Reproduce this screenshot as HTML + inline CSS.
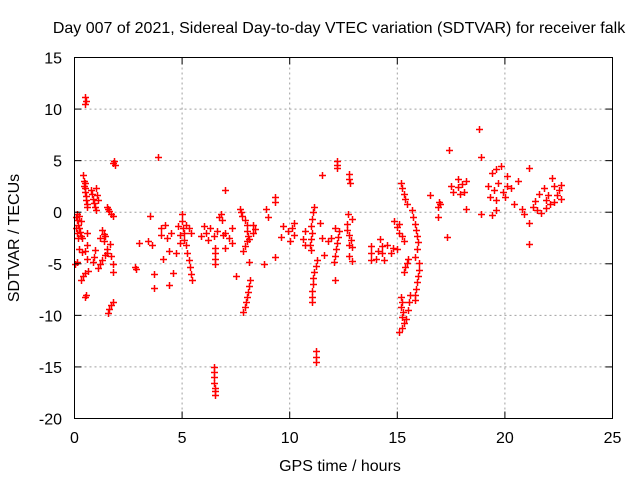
<!DOCTYPE html>
<html><head><meta charset="utf-8"><style>
body{margin:0;background:#fff;}
svg{display:block;font-family:"Liberation Sans",sans-serif;}
</style></head><body>
<svg id="chart" width="640" height="480" viewBox="0 0 640 480">
<rect width="640" height="480" fill="#fff"/>
<text x="339" y="33" font-size="16" text-anchor="middle">Day 007 of 2021, Sidereal Day-to-day VTEC variation (SDTVAR) for receiver falk</text>
<g id="grid"></g>
<g id="marks"></g>
<rect x="74.5" y="57.5" width="538" height="361" fill="none" stroke="#000" stroke-width="1"/>
<g id="axes"></g>
<text x="340" y="471" font-size="16" text-anchor="middle">GPS time / hours</text>
<text x="19" y="238" font-size="16" text-anchor="middle" transform="rotate(-90 19 238)">SDTVAR / TECUs</text>
</svg>
<script>
const xTicks=[0,5,10,15,20,25];
const yTicks=[-20,-15,-10,-5,0,5,10,15];
const hours=[0.05,0.1,0.15,0.2,0.25,0.3,0.35,0.12,0.2,0.28,0.05,0.1,0.15,
0.4,0.42,0.45,0.5,0.52,0.55,0.58,0.6,0.48,0.5,
0.8,0.85,0.9,0.95,1.0,0.75,1.0,1.05,1.1,
0.5,0.5,0.55,1.5,1.6,1.7,1.8,1.55,1.8,1.85,1.9,
0.28,0.4,0.5,0.65,0.5,0.55,1.55,1.6,1.7,1.8,
1.65,1.5,1.4,1.3,1.2,1.1,0.9,0.95,0.85,0.6,0.5,0.6,0.2,0.35,0.1,0.0,
1.2,1.4,1.3,1.5,1.7,1.8,1.8,1.35,1.35,0.6,
2.8,3.0,3.4,3.5,3.6,3.7,3.7,3.9,4.0,4.0,4.1,4.2,4.3,4.4,4.4,4.5,4.6,4.7,4.8,4.9,4.9,2.85,
5.0,5.0,5.05,5.1,5.1,5.2,5.25,5.3,5.35,5.4,5.45,5.2,5.3,5.4,
5.9,6.0,6.2,6.1,6.3,6.55,6.55,6.55,6.55,6.5,6.6,6.7,6.8,6.85,6.9,
6.5,6.5,6.5,6.5,6.55,6.55,6.55,
7.0,7.0,7.2,7.0,7.3,7.3,7.5,
7.7,7.75,7.8,7.9,8.0,8.0,8.05,8.0,7.9,7.85,8.1,8.3,8.4,8.3,
8.15,8.1,8.05,8.0,7.95,7.9,7.85,
8.1,8.9,9.0,9.3,9.3,8.8,9.3,
9.7,9.9,10.1,10.2,9.6,10.0,10.2,
11.15,11.1,11.05,11.0,11.05,11.0,10.95,11.0,10.7,10.6,10.7,
11.25,11.2,11.15,11.1,11.1,11.05,11.05,11.05,
11.2,11.2,11.2,11.5,11.4,11.5,11.6,
12.2,12.2,12.2,12.3,12.25,12.2,12.15,12.1,12.05,11.9,11.8,12.1,12.1,
12.75,12.75,12.8,12.65,12.75,12.85,12.75,12.65,12.7,12.9,12.9,12.75,12.9,
13.8,13.8,13.8,14.2,14.3,14.3,14.4,14.1,14.5,14.7,14.8,15.0,14.0,
14.85,15.0,15.1,15.2,15.3,15.1,
15.15,15.2,15.3,15.35,15.45,
15.7,15.75,15.8,15.85,15.9,15.95,15.9,15.8,16.0,
15.3,15.35,15.45,15.5,
15.15,15.2,15.15,15.25,15.2,15.3,15.2,15.1,15.4,15.5,15.55,15.6,
16.0,15.95,15.9,15.85,15.8,15.8,
16.5,16.95,16.9,16.9,17.0,17.4,17.3,17.5,17.6,17.8,17.8,17.9,18.0,18.1,18.2,18.2,18.8,18.9,18.9,19.2,19.3,19.4,19.5,19.6,19.6,19.7,19.8,19.9,20.0,19.6,19.4,20.1,20.1,20.3,20.4,20.8,20.9,20.6,21.1,21.1,21.1,21.3,21.4,21.5,21.6,21.7,21.9,21.8,22.0,22.1,22.2,22.3,22.4,22.5,22.6,22.3,22.6,21.9];
const sdtvar=[-0.5,-0.8,-1.2,-1.5,-1.9,-2.3,-2.5,-0.2,-0.4,-0.9,-1.5,-2,-2.5,
3.6,3.0,2.5,2.0,1.6,1.2,0.8,0.5,2.8,2.3,
1.8,1.3,0.9,0.5,0.2,2.2,2.3,1.7,1.2,
10.5,11.2,10.8,0.5,0.1,-0.2,-0.4,0.3,4.8,5.0,4.6,
-6.6,-6.2,-5.9,-5.7,-8.2,-8.0,-9.8,-9.4,-9.0,-8.7,
-3.1,-3.6,-4.1,-4.6,-5.0,-5.4,-4.3,-3.7,-4.8,-3.2,-3.8,-4.5,-3.6,-3.9,-4.8,-5.0,
-2.5,-2.3,-1.7,-4.0,-4.2,-5.0,-5.8,-2.1,-2.8,-2.0,
-5.3,-3,-2.8,-0.4,-3.2,-6,-7.3,5.4,-2.2,-1.5,-4.5,-1.2,-2.5,-3.8,-7.1,-2.0,-5.9,-4,-1.3,-3.0,-2.2,-5.5,
-0.2,-0.9,-1.5,-2,-2.7,-3.2,-4,-4.6,-5.3,-6,-6.6,-1.2,-1.5,-2,
-2.3,-1.3,-2.7,-2,-1.5,-3.5,-4,-4.5,-5,-2.3,-1.8,-0.5,-0.2,-0.8,-2.2,
-15,-15.5,-16,-16.6,-17,-17.3,-17.7,
2.2,-2,-2.5,-3.5,-3,-1.5,-6.2,
0.3,0,-0.4,-0.8,-1.2,-1.8,-2.3,-2.8,-3.3,-3.8,-2.6,-2,-1.6,-1.2,
-6.6,-7.2,-7.7,-8.2,-8.7,-9.2,-9.7,
-4.8,0.3,-0.5,1,1.5,-5,-4.3,
-1.3,-1.8,-1.5,-2.2,-2.4,-2.8,-1.0,
0.5,0,-0.7,-1.3,-2,-2.6,-3.2,-3.7,-1.8,-2.6,-3.2,
-4.6,-5.2,-5.8,-6.4,-7,-7.6,-8.2,-8.7,
-13.5,-14,-14.5,3.6,-1,-2.5,-4.1,
5,4.6,4.3,-1.8,-2.4,-3,-3.6,-4.2,-4.8,-2.5,-2.8,-1.5,-6.6,
3.7,3.2,2.8,-1.7,-2.2,-2.7,-3.2,-1.1,-0.2,-0.7,-3.4,-4.2,-4.7,
-3.3,-4,-4.6,-2.6,-3.3,-4,-4.6,-3.8,-3.2,-4.0,-3.5,-3.6,-4.5,
-0.9,-1.4,-2,-2.3,-2.8,-1.1,
2.8,2.3,1.8,1.3,0.8,
0.2,-0.5,-1.1,-1.7,-2.3,-2.9,-3.6,-4.3,-4.9,
-5.8,-5.3,-4.9,-4.5,
-8.2,-8.7,-9.2,-9.7,-10.2,-10.7,-11.2,-11.6,-10.4,-9.5,-8.7,-8.0,
-5.6,-6.2,-6.8,-7.4,-8,-8.5,
1.7,1.0,0.5,-0.5,0.8,6.0,-2.4,2.5,2.0,3.2,2.4,1.8,2.7,2.0,3.0,0.3,8.1,5.4,-0.2,2.5,1.5,3.8,2.2,1.2,4.2,2.8,4.5,2.0,1.5,0.2,-0.3,3.5,2.5,2.3,0.8,0.3,-0.2,3.0,4.3,-1.0,-3.1,0.5,1.1,0.2,1.8,-0.1,1.2,2.3,1.7,0.8,3.3,2.5,1.7,2.2,1.3,1.0,2.6,0.4];
const L=74.5,R=612.5,T=57.5,B=418.5;
function X(h){return L+(h-0)/(25-0)*(R-L);}
function Y(v){return B-(v+20)/(35)*(B-T);}
const NS='http://www.w3.org/2000/svg';
const grid=document.getElementById('grid'),axes=document.getElementById('axes'),marks=document.getElementById('marks');
function mk(tag,attrs,parent){const e=document.createElementNS(NS,tag);for(const k in attrs)e.setAttribute(k,attrs[k]);parent.appendChild(e);return e;}
xTicks.forEach(t=>{const x=X(t);
 if(t>0&&t<25){const g=mk('line',{x1:x,y1:T,x2:x,y2:B,stroke:'#a0a0a0','stroke-dasharray':'2,3'},grid);}
 const a=mk('line',{x1:x,y1:B,x2:x,y2:B-7,stroke:'#000'},axes);
 const b=mk('line',{x1:x,y1:T,x2:x,y2:T+7,stroke:'#000'},axes);
 const tx=mk('text',{x:x,y:443,'font-size':16,'text-anchor':'middle'},axes);tx.textContent=t;});
yTicks.forEach(t=>{const y=Y(t);
 if(t>-20&&t<15){const g=mk('line',{x1:L,y1:y,x2:R,y2:y,stroke:'#a0a0a0','stroke-dasharray':'2,3'},grid);}
 const a=mk('line',{x1:L,y1:y,x2:L+7,y2:y,stroke:'#000'},axes);
 const b=mk('line',{x1:R,y1:y,x2:R-7,y2:y,stroke:'#000'},axes);
 const tx=mk('text',{x:62,y:y+6,'font-size':16,'text-anchor':'end'},axes);tx.textContent=t;});
for(let i=0;i<hours.length;i++){const x=Math.round(X(hours[i]))+0.5,y=Math.round(Y(sdtvar[i]))+0.5;
 const p=mk('path',{d:`M${x-3.5},${y}H${x+3.5}M${x},${y-3.5}V${y+3.5}`,stroke:'#ff0000','stroke-width':1.5,fill:'none'},marks);
 
 }
</script>
</body></html>
